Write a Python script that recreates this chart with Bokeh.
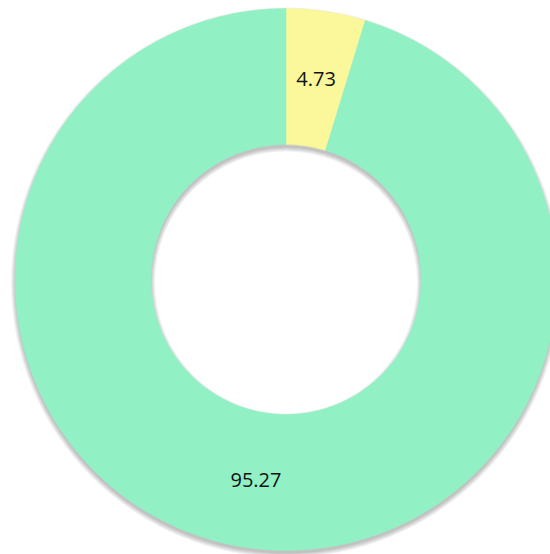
import math
from bokeh.plotting import figure
from bokeh.models import Range1d, ColumnDataSource
from bokeh.core.properties import value
from bokeh.embed import file_html
from bokeh.resources import INLINE

# data
categories = ["A", "B"]
values = [4.73, 95.27]
labels = ["4.73", "95.27"]
colors = ["#FAF89B", "#91F1C5"]

W, H = 550, 554
cx, cy = 285.5, H - 279
r_out, r_in = 271, 135

p = figure(width=W, height=H, output_backend="svg", toolbar_location=None,
           x_range=Range1d(0, W), y_range=Range1d(0, H), min_border=0)
p.axis.visible = False
p.grid.visible = False
p.outline_line_color = None
p.background_fill_color = "white"
p.border_fill_color = "white"

total = sum(values)
starts, ends, mids = [], [], []
acc = 0.0
for v in values:
    a0 = math.pi / 2 - 2 * math.pi * acc / total
    acc += v
    a1 = math.pi / 2 - 2 * math.pi * acc / total
    starts.append(a0)
    ends.append(a1)
    mids.append((a0 + a1) / 2)

# soft drop shadow (layers offset downward)
for grow in [4, 3, 2, 1, 0]:
    p.annulus(x=cx, y=cy - 3, inner_radius=r_in - grow, outer_radius=r_out + grow,
              fill_color="black", fill_alpha=0.05, line_color=None)

src = ColumnDataSource(dict(cat=categories, val=values, start=starts, end=ends, color=colors))
p.annular_wedge(x=cx, y=cy, inner_radius=r_in, outer_radius=r_out,
                start_angle="start", end_angle="end", direction="clock",
                fill_color="color", line_color="color", line_width=0.5, source=src)

r_mid = (r_in + r_out) / 2
lx = [cx + r_mid * math.cos(a) for a in mids]
ly = [cy + r_mid * math.sin(a) for a in mids]
p.text(x=lx, y=ly, text=labels, text_align="center", text_baseline="middle",
       text_font=value("Open Sans"), text_font_size="20px", text_color="#111111")

open("out.html", "w").write(file_html(p, INLINE))
